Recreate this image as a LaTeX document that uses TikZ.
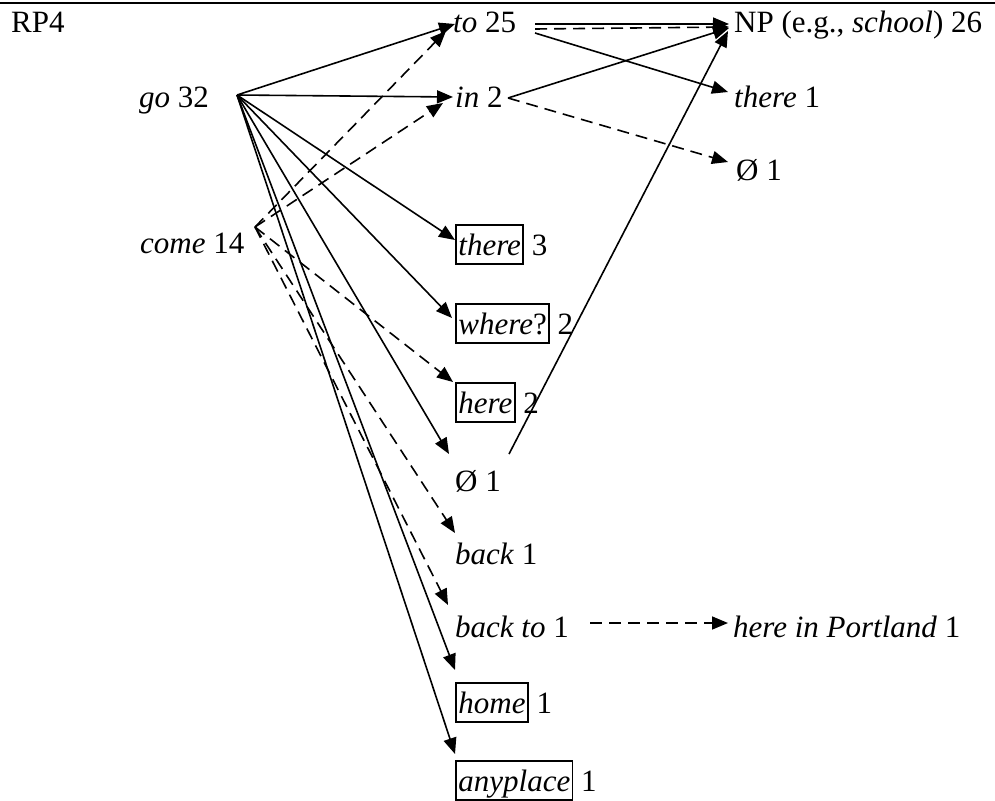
\documentclass[tikz,border=0pt]{standalone}
\usepackage{fontspec}
\setmainfont{Liberation Serif}
\usetikzlibrary{arrows.meta}
\newcommand\bx[1]{{\setlength\fboxsep{0pt}\setlength\fboxrule{1.7pt}\fbox{\rule[-8pt]{0pt}{37pt}\kern1.5pt#1\kern1.5pt}}}
\tikzset{
  txt/.style={anchor=base west, inner sep=0pt, font=\fontsize{31}{37}\selectfont},
  arr/.style={-{Triangle[length=16pt,width=13pt]}, line width=1.6pt},
  dsh/.style={arr, dash pattern=on 12pt off 7pt},
}
\begin{document}
\begin{tikzpicture}[x=1pt,y=-1pt]
\useasboundingbox (0,0) rectangle (995,800);
\draw[line width=2.5pt] (0,3) -- (995,3);
% nodes
\node[txt] (rp) at (11,33) {RP4};
\node[txt] (go) at (139,107) {\textit{go} 32};
\node[txt] (come) at (140,253) {\textit{come} 14};
\node[txt] (to) at (453,33) {\textit{to} 25};
\node[txt] (in) at (455,107) {\textit{in} 2};
\node[txt] (np) at (734,33) {NP (e.g., \textit{school}) 26};
\node[txt] (thereA) at (734,107) {\textit{there} 1};
\node[txt] (nullA) at (736,180) {Ø 1};
\node[txt] (thereB) at (455,255) {\bx{\textit{there}} 3};
\node[txt] (where) at (455,334) {\bx{\textit{where}?} 2};
\node[txt] (here) at (455,413) {\bx{\textit{here}} 2};
\node[txt] (nullB) at (455,491) {Ø 1};
\node[txt] (back) at (455,564) {\textit{back} 1};
\node[txt] (backto) at (455,637) {\textit{back to} 1};
\node[txt] (portland) at (733,637) {\textit{here in Portland} 1};
\node[txt] (home) at (455,713) {\bx{\textit{home}} 1};
\node[txt] (anyplace) at (455,791) {\bx{\textit{anyplace}} 1};
% connector ends
\coordinate (goO) at (237,95);
\coordinate (comeO) at (255,227);
\coordinate (toS) at (455,24);
\coordinate (toD) at (446,31);
\coordinate (inS) at (453,97);
\coordinate (inD) at (443,103);
\coordinate (toR1) at (535,24);
\coordinate (toR2) at (535,29);
\coordinate (toR3) at (535,33);
\coordinate (inR) at (508,98);
\coordinate (npA) at (729,24);
\coordinate (npB) at (729,27);
\coordinate (npC) at (729,28);
\coordinate (npD) at (728,31);
\coordinate (thereAin) at (728,92);
\coordinate (nullAin) at (728,162);
\coordinate (thereBin) at (455,240);
\coordinate (wherein) at (452,318);
\coordinate (herein) at (453,382);
\coordinate (nullBin) at (449,454);
\coordinate (nullBout) at (509,454);
\coordinate (backin) at (455,533);
\coordinate (backtoin) at (448,605);
\coordinate (backtoR) at (590,623);
\coordinate (portin) at (728,623);
\coordinate (homein) at (455,670);
\coordinate (anyin) at (455,754);
% go
\draw[arr] (goO) -- (toS);
\draw[arr] (goO) -- (inS);
\draw[arr] (goO) -- (thereBin);
\draw[arr] (goO) -- (wherein);
\draw[arr] (goO) -- (nullBin);
\draw[arr] (goO) -- (homein);
\draw[arr] (goO) -- (anyin);
% come
\draw[dsh] (comeO) -- (toD);
\draw[dsh] (comeO) -- (inD);
\draw[dsh] (comeO) -- (herein);
\draw[dsh] (comeO) -- (backin);
\draw[dsh] (comeO) -- (backtoin);
% second level
\draw[arr] (toR1) -- (npA);
\draw[dsh] (toR2) -- (npB);
\draw[arr] (toR3) -- (thereAin);
\draw[arr] (inR) -- (npC);
\draw[dsh] (inR) -- (nullAin);
\draw[arr] (nullBout) -- (npD);
\draw[dsh] (backtoR) -- (portin);
\end{tikzpicture}
\end{document}
